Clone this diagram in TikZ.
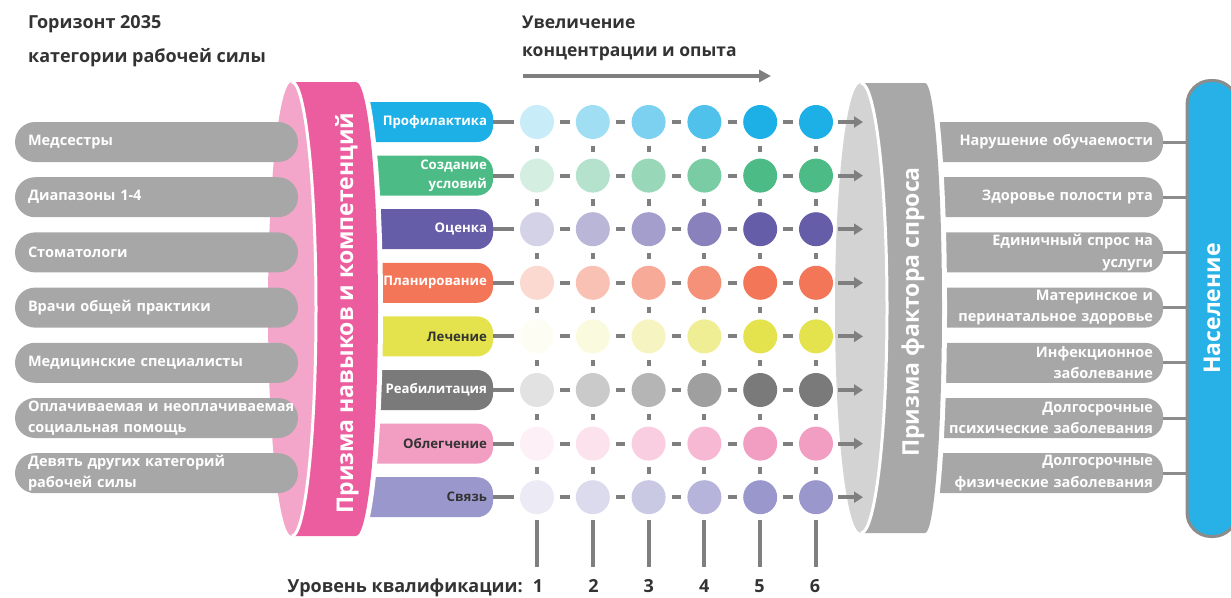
\documentclass[tikz,border=0pt]{standalone}
\usepackage{fontspec}
\setmainfont{Open Sans}
\usetikzlibrary{arrows.meta}
\definecolor{txt}{HTML}{333333}
\definecolor{boxgray}{HTML}{A7A7A7}
\definecolor{linegray}{HTML}{7F7F7F}
\definecolor{conngray}{HTML}{8C8C8C}
\definecolor{pinkface}{HTML}{F4A6CA}
\definecolor{pinkband}{HTML}{EB5D9E}
\definecolor{grayface}{HTML}{D3D3D3}
\definecolor{grayband}{HTML}{A8A8A8}
\definecolor{popblue}{HTML}{27B1E6}
\definecolor{popborder}{HTML}{8C8C8C}
\definecolor{cA}{HTML}{1DB0E6}
\definecolor{cB}{HTML}{4DBB85}
\definecolor{cC}{HTML}{665DA9}
\definecolor{cD}{HTML}{F27657}
\definecolor{cE}{HTML}{E4E34E}
\definecolor{cF}{HTML}{7A7A7A}
\definecolor{cG}{HTML}{F29DC2}
\definecolor{cH}{HTML}{9A97CC}
\tikzset{
  catbox/.style={fill=boxgray, rounded corners=20pt, minimum width=283pt, minimum height=40pt,
    inner xsep=13pt, inner ysep=0pt, text width=257pt, align=left, text=white,
    font=\bfseries\fontsize{14.5}{20.5}\selectfont},
  skillbox/.style={rounded corners=16pt, minimum width=153pt, minimum height=40pt,
    inner xsep=6pt, inner ysep=0pt, text width=141pt, align=right,
    font=\bfseries\fontsize{13.2}{19}\selectfont},
  dembox/.style={fill=boxgray, rounded corners=18pt, minimum width=238pt, minimum height=40pt,
    inner xsep=10pt, inner ysep=0pt, text width=218pt, align=right, text=white,
    font=\bfseries\fontsize{14.5}{21.5}\selectfont},
  dot/.style={circle, minimum size=34pt, inner sep=0pt},
  gridline/.style={draw=linegray, line width=4pt},
  conn/.style={draw=conngray, line width=3pt},
  prismtext/.style={text=white, font=\bfseries\fontsize{23}{30}\selectfont, rotate=90, inner sep=0pt},
  titletext/.style={text=txt, font=\bfseries\fontsize{18}{23}\selectfont, inner sep=0pt},
  headtext/.style={text=txt, font=\bfseries\fontsize{17.5}{22}\selectfont, inner sep=0pt},
}
\begin{document}
\begin{tikzpicture}[x=1pt,y=-1pt]
\useasboundingbox (0,0) rectangle (1231,597);
% titles
\node[titletext, anchor=base west] (t1) at (28,28) {Горизонт 2035};
\node[titletext, anchor=base west] (t2) at (28,62) {категории рабочей силы};
\node[headtext, anchor=base west] (t3) at (522,28) {Увеличение};
\node[headtext, anchor=base west] (t4) at (522,56) {концентрации и опыта};
\coordinate (a1) at (523,76);
\coordinate (a2) at (771,76);
\draw[gridline, -{Triangle[length=12pt,width=12pt]}] (a1) -- (a2);

% left prism face
\fill[pinkface] (292,309) ellipse [x radius=24, y radius=227];
% skill boxes
\foreach \i/\col/\tc/\lab in {1/cA/white/Профилактика, 2/cB/white/{Создание\\условий}, 3/cC/white/Оценка,
  4/cD/white/Планирование, 5/cE/txt/Лечение, 6/cF/white/Реабилитация, 7/cG/txt/Облегчение, 8/cH/txt/Связь}{
  \node[skillbox, fill=\col, text=\tc] (s\i) at (416.5, {122+53.6*(\i-1)}) {\lab};
}
% left prism band
\draw[white, line width=10pt] (356,82) arc[start angle=-90, end angle=90, x radius=22, y radius=227];
\fill[pinkband] (292,82) -- (356,82) arc[start angle=-90, end angle=90, x radius=22, y radius=227]
  -- (292,536) arc[start angle=90, end angle=-90, x radius=24, y radius=227] -- cycle;
\draw[white, line width=3pt] (292,82) arc[start angle=-90, end angle=90, x radius=24, y radius=227];
\node[prismtext] (skillprism) at (347,313) {Призма навыков и компетенций};

% workforce categories
\foreach \k/\lab in {1/Медсестры, 2/Диапазоны 1-4, 3/Стоматологи, 4/Врачи общей практики,
  5/Медицинские специалисты, 6/{Оплачиваемая~и~неоплачиваемая\\социальная~помощь},
  7/{Девять~других~категорий\\рабочей~силы}}{
  \node[catbox] (w\k) at (156.5, {142+55.2*(\k-1)}) {\lab};
}

% right prism face
\fill[grayface] (861,308) ellipse [x radius=26, y radius=225];

% circles
\foreach \i/\col/\pa/\pb/\pc/\pd in {1/cA/24/42/58/78, 2/cB/24/42/58/75, 3/cC/28/45/60/78,
  4/cD/28/45/62/80, 5/cE/6/18/35/60, 6/cF/22/40/56/72, 7/cG/15/30/50/72, 8/cH/20/35/52/72}{
  \foreach \j/\p in {1/\pa,2/\pb,3/\pc,4/\pd,5/100,6/100}{
    \node[dot, fill=\col!\p!white] (c\i-\j) at ({537+55.8*(\j-1)}, {122+53.6*(\i-1)}) {};
  }
}
% horizontal connectors
\foreach \i in {1,...,8}{
  \draw[gridline, shorten >=6pt] (s\i.east) -- (c\i-1.west);
  \foreach \j [evaluate=\j as \jn using int(\j+1)] in {1,...,5}{
    \draw[gridline, shorten <=6pt, shorten >=6pt] (c\i-\j.east) -- (c\i-\jn.west);
  }
  \coordinate (e\i) at (863, {122+53.6*(\i-1)});
  \draw[gridline, shorten <=5pt, -{Triangle[length=9pt,width=11pt]}] (c\i-6.east) -- (e\i);
}
% vertical connectors
\foreach \i [evaluate=\i as \ii using int(\i+1)] in {1,...,7}{
  \foreach \j in {1,...,6}{
    \draw[gridline, shorten <=6.5pt, shorten >=6.5pt] (c\i-\j.south) -- (c\ii-\j.north);
  }
}
% levels
\node[titletext, anchor=base east] (lvl) at (523,592) {Уровень квалификации:};
\foreach \j in {1,...,6}{
  \node[titletext, anchor=base] (n\j) at ({538+55.4*(\j-1)}, 592) {\j};
  \coordinate (b\j) at ({537+55.8*(\j-1)}, 567);
  \draw[gridline, shorten <=6pt] (c8-\j.south) -- (b\j);
}

% demand boxes
\foreach \k/\lab in {1/Нарушение~обучаемости, 2/Здоровье~полости~рта, 3/{Единичный~спрос~на\\услуги},
  4/{Материнское~и\\перинатальное~здоровье}, 5/{Инфекционное\\заболевание},
  6/{Долгосрочные\\психические~заболевания}, 7/{Долгосрочные\\физические~заболевания}}{
  \node[dembox] (d\k) at (1044, {142+55.2*(\k-1)}) {\lab};
}
% right prism band
\draw[white, line width=10pt] (925,83) arc[start angle=-90, end angle=90, x radius=17, y radius=225];
\fill[grayband] (861,83) -- (925,83) arc[start angle=-90, end angle=90, x radius=17, y radius=225]
  -- (861,533) arc[start angle=90, end angle=-90, x radius=26, y radius=225] -- cycle;
\draw[white, line width=3pt] (861,83) arc[start angle=-90, end angle=90, x radius=26, y radius=225];
\node[prismtext] (demprism) at (913,312) {Призма фактора спроса};

% population
\node[draw=popborder, fill=popblue, line width=3pt, rounded corners=24pt, minimum width=456pt,
  minimum height=50pt, rotate=90, text=white, font=\bfseries\fontsize{23}{30}\selectfont] (pop) at (1212,308.5) {Население};
\foreach \k in {1,...,7}{
  \draw[conn] (d\k.east) -- (d\k.east -| pop.north);
}
\end{tikzpicture}
\end{document}
